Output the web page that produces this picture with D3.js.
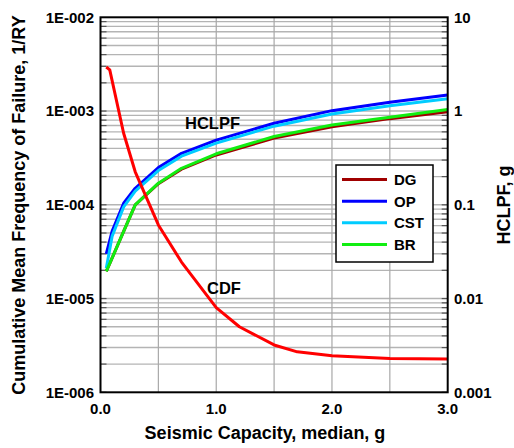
<!DOCTYPE html>
<html><head><meta charset="utf-8">
<script src="https://cdn.jsdelivr.net/npm/d3@7/dist/d3.min.js"></script>
<style>
html,body{margin:0;padding:0;background:#fff;}
svg{display:block;font-family:Arial,"Liberation Sans",sans-serif;font-weight:bold;}
</style></head>
<body><svg id="c" width="514" height="448"></svg>
<script>
// ---- data ----
const cdfX = [0.05, 0.08, 0.2, 0.3, 0.5, 0.7, 1.0, 1.2, 1.5, 1.7, 2.0, 2.5, 3.0];
const cdfY = [2.95e-3, 2.75e-3, 5.8e-4, 2.25e-4, 6.1e-5, 2.45e-5, 8.0e-6, 5.0e-6, 3.2e-6, 2.7e-6, 2.45e-6, 2.3e-6, 2.27e-6];
const hX   = [0.05, 0.1, 0.2, 0.3, 0.5, 0.7, 1.0, 1.5, 2.0, 2.5, 3.0];
const hDG  = [0.0195, 0.027, 0.052, 0.1, 0.168, 0.24, 0.34, 0.515, 0.68, 0.83, 0.98];
const hOP  = [0.030, 0.052, 0.104, 0.15, 0.25, 0.354, 0.49, 0.74, 1.01, 1.24, 1.48];
const hCST = [0.021, 0.046, 0.095, 0.14, 0.232, 0.33, 0.455, 0.69, 0.93, 1.14, 1.35];
const hBR  = [0.0195, 0.027, 0.052, 0.1, 0.17, 0.245, 0.35, 0.535, 0.71, 0.86, 1.04];
const seriesNames = ["DG", "OP", "CST", "BR"];
const xTickLabels = ["0.0", "1.0", "2.0", "3.0"];
const leftTickLabels = ["1E-006", "1E-005", "1E-004", "1E-003", "1E-002"];
const rightTickLabels = ["0.001", "0.01", "0.1", "1", "10"];

const colors = {DG:"#a00000", OP:"#0000ff", CST:"#00ccff", BR:"#11ee11", CDF:"#ff0000"};
const hSeries = {DG:hDG, OP:hOP, CST:hCST, BR:hBR};

const svg = d3.select("#c");
const L = 100.5, R = 447.7, T = 17.3, B = 392.3;
const x = d3.scaleLinear().domain([0, 3]).range([L, R]);
const yL = d3.scaleLog().domain([1e-6, 1e-2]).range([B, T]);
const yR = d3.scaleLog().domain([0.001, 10]).range([B, T]);

// grid
const g = svg.append("g");
const minorVals = [];
for (let e = -6; e < -2; e++) for (let m = 1; m < 10; m++) minorVals.push(m * Math.pow(10, e));
g.selectAll("line.h").data(minorVals.filter(v => v > 1e-6)).join("line")
  .attr("x1", L).attr("x2", R).attr("y1", d => yL(d)).attr("y2", d => yL(d))
  .attr("stroke", "#b4b4b4").attr("stroke-width", 1.4);
const xGrid = d3.range(0.5, 3, 0.5);
g.selectAll("line.v").data(xGrid).join("line")
  .attr("x1", d => x(d)).attr("x2", d => x(d)).attr("y1", T).attr("y2", B)
  .attr("stroke", "#a8a8a8").attr("stroke-width", 1.2);
// inward ticks left/right
g.selectAll("line.tl").data(minorVals).join("line")
  .attr("x1", L).attr("x2", L + 6).attr("y1", d => yL(d)).attr("y2", d => yL(d))
  .attr("stroke", "#555").attr("stroke-width", 1.2);
g.selectAll("line.tr").data(minorVals).join("line")
  .attr("x1", R - 6).attr("x2", R).attr("y1", d => yL(d)).attr("y2", d => yL(d))
  .attr("stroke", "#555").attr("stroke-width", 1.2);

// lines
const lineH = d3.line().x(d => x(d[0])).y(d => yR(d[1]));
const lineC = d3.line().x(d => x(d[0])).y(d => yL(d[1]));
const plot = svg.append("g");
["DG", "OP", "CST", "BR"].forEach(k => {
  plot.append("path").datum(hX.map((v, i) => [v, hSeries[k][i]]))
    .attr("d", lineH).attr("fill", "none").attr("stroke", colors[k])
    .attr("stroke-width", 3).attr("stroke-linejoin", "round");
});
plot.append("path").datum(cdfX.map((v, i) => [v, cdfY[i]]))
  .attr("d", lineC).attr("fill", "none").attr("stroke", colors.CDF)
  .attr("stroke-width", 3).attr("stroke-linejoin", "round");

// frame
svg.append("rect").attr("x", L).attr("y", T).attr("width", R - L).attr("height", B - T)
  .attr("fill", "none").attr("stroke", "#000").attr("stroke-width", 2);

// axes labels
const lv = [1e-6, 1e-5, 1e-4, 1e-3, 1e-2];
svg.selectAll("text.yl").data(lv).join("text")
  .attr("x", 94).attr("y", d => yL(d)).attr("dy", "0.36em").attr("text-anchor", "end")
  .attr("font-size", 15).text((d, i) => leftTickLabels[i]);
const rv = [0.001, 0.01, 0.1, 1, 10];
svg.selectAll("text.yr").data(rv).join("text")
  .attr("x", 454).attr("y", d => yR(d)).attr("dy", "0.36em").attr("text-anchor", "start")
  .attr("font-size", 15).text((d, i) => rightTickLabels[i]);
svg.selectAll("text.xl").data([0, 1, 2, 3]).join("text")
  .attr("x", d => x(d)).attr("y", 414).attr("text-anchor", "middle")
  .attr("font-size", 15).text((d, i) => xTickLabels[i]);

svg.append("text").attr("x", 265).attr("y", 439).attr("text-anchor", "middle")
  .attr("font-size", 18).text("Seismic Capacity, median, g");
svg.append("text").attr("transform", "translate(25,205) rotate(-90)").attr("text-anchor", "middle")
  .attr("font-size", 18).text("Cumulative Mean Frequency of Failure, 1/RY");
svg.append("text").attr("transform", "translate(510,205) rotate(-90)").attr("text-anchor", "middle")
  .attr("font-size", 18).text("HCLPF, g");

// annotations
svg.append("text").attr("x", 185).attr("y", 129).attr("font-size", 16.5).text("HCLPF");
svg.append("text").attr("x", 207).attr("y", 294).attr("font-size", 16.5).text("CDF");

// legend
const lg = svg.append("g");
lg.append("rect").attr("x", 336).attr("y", 165).attr("width", 97).attr("height", 97)
  .attr("fill", "#fff").attr("stroke", "#000").attr("stroke-width", 1.5);
const ly = d3.scalePoint().domain(seriesNames).range([179.5, 244.5]);
seriesNames.forEach(k => {
  lg.append("line").attr("x1", 342).attr("x2", 387).attr("y1", ly(k)).attr("y2", ly(k))
    .attr("stroke", colors[k]).attr("stroke-width", 3);
  lg.append("text").attr("x", 394).attr("y", ly(k)).attr("dy", "0.36em")
    .attr("font-size", 15).text(k);
});
</script>
</body></html>
